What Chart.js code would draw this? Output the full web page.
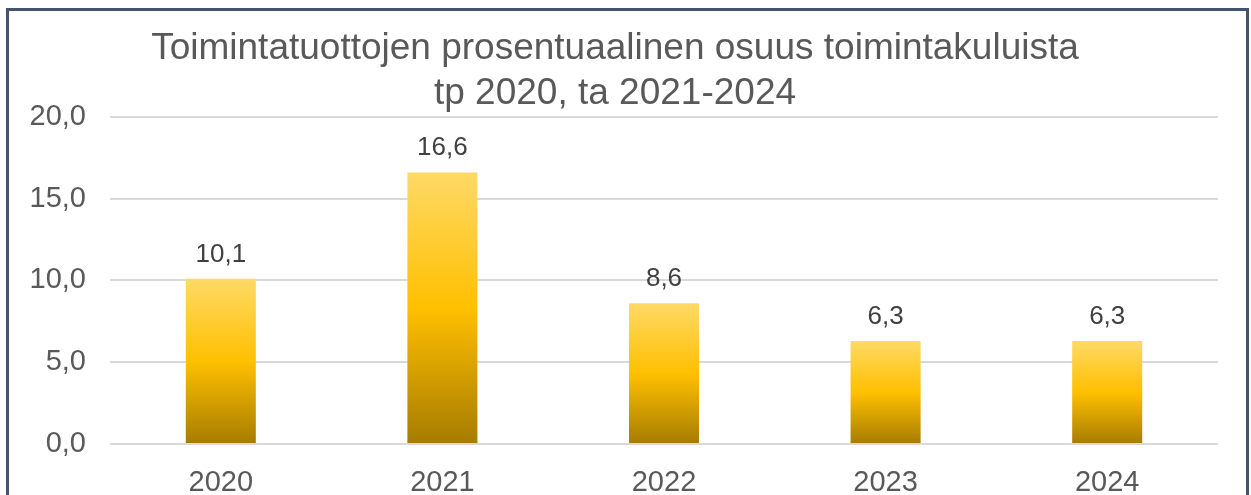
<!DOCTYPE html>
<html lang="fi">
<head>
  <meta charset="UTF-8">
  <title>Toimintatuotot</title>
  <script src="https://cdn.jsdelivr.net/npm/chart.js"></script>
  <style>
    html, body {
      margin: 0;
      padding: 0;
      background: #fff;
      overflow: hidden;
    }
    #wrap {
      position: relative;
      width: 1251px;
      height: 495px;
    }
    #frame {
      position: absolute;
      left: 6px;
      top: 8px;
      width: 1237px;
      height: 520px;
      border: 3px solid #44546A;
      pointer-events: none;
    }
  </style>
</head>
<body>
  <div id="wrap">
    <canvas id="chart" width="1251" height="495"></canvas>
    <div id="frame"></div>
  </div>

  <script>
    const years = ['2020', '2021', '2022', '2023', '2024'];
    const shares = [10.1, 16.6, 8.6, 6.3, 6.3];
    const yTicks = [0, 5, 10, 15, 20];
    const titleLines = ['Toimintatuottojen prosentuaalinen osuus toimintakuluista', 'tp 2020, ta 2021-2024'];

    const fmt = v => v.toFixed(1).replace('.', ',');
    const FONT = '"Liberation Sans", Arial, sans-serif';

    // gradient per bar, from the bar's top down to zero
    function barFill(ctx) {
      const chart = ctx.chart;
      const area = chart.chartArea;
      if (!area) return '#FFC000';
      const y = chart.scales.y;
      const top = y.getPixelForValue(ctx.raw);
      const bottom = y.getPixelForValue(0);
      const g = chart.ctx.createLinearGradient(0, top, 0, bottom);
      g.addColorStop(0, '#FFD966');
      g.addColorStop(0.5, '#FFC000');
      g.addColorStop(1, '#A67C00');
      return g;
    }

    const valueLabels = {
      id: 'valueLabels',
      afterDatasetsDraw(chart) {
        const c = chart.ctx;
        const meta = chart.getDatasetMeta(0);
        c.save();
        c.font = '26px ' + FONT;
        c.fillStyle = '#404040';
        c.textAlign = 'center';
        c.textBaseline = 'alphabetic';
        meta.data.forEach((bar, i) => {
          c.fillText(fmt(shares[i]), bar.x, bar.y - 17);
        });
        c.restore();
      }
    };

    new Chart(document.getElementById('chart'), {
      type: 'bar',
      data: {
        labels: years,
        datasets: [{
          data: shares,
          backgroundColor: barFill,
          borderWidth: 0,
          barPercentage: 0.316,
          categoryPercentage: 1
        }]
      },
      options: {
        responsive: false,
        animation: false,
        layout: { padding: { left: 12, right: 33, top: 0, bottom: 0 } },
        plugins: {
          legend: { display: false },
          tooltip: { enabled: false },
          title: {
            display: true,
            text: titleLines,
            color: '#595959',
            font: { family: FONT, size: 37, weight: 'normal', lineHeight: 1.2 },
            padding: { top: 27, bottom: 1 }
          }
        },
        scales: {
          x: {
            grid: { display: false },
            border: { display: false },
            ticks: {
              color: '#595959',
              font: { family: FONT, size: 29 },
              padding: 14
            },
            afterFit(scale) { scale.height = 51; }
          },
          y: {
            min: 0,
            max: 20,
            afterBuildTicks(scale) {
              scale.ticks = yTicks.map(v => ({ value: v }));
            },
            grid: { color: '#D9D9D9', lineWidth: 2, drawTicks: false },
            border: { display: false },
            ticks: {
              color: '#595959',
              font: { family: FONT, size: 29 },
              padding: 24,
              callback: v => fmt(v)
            },
            afterFit(scale) { scale.width = 98; }
          }
        }
      },
      plugins: [valueLabels]
    });
  </script>
</body>
</html>
